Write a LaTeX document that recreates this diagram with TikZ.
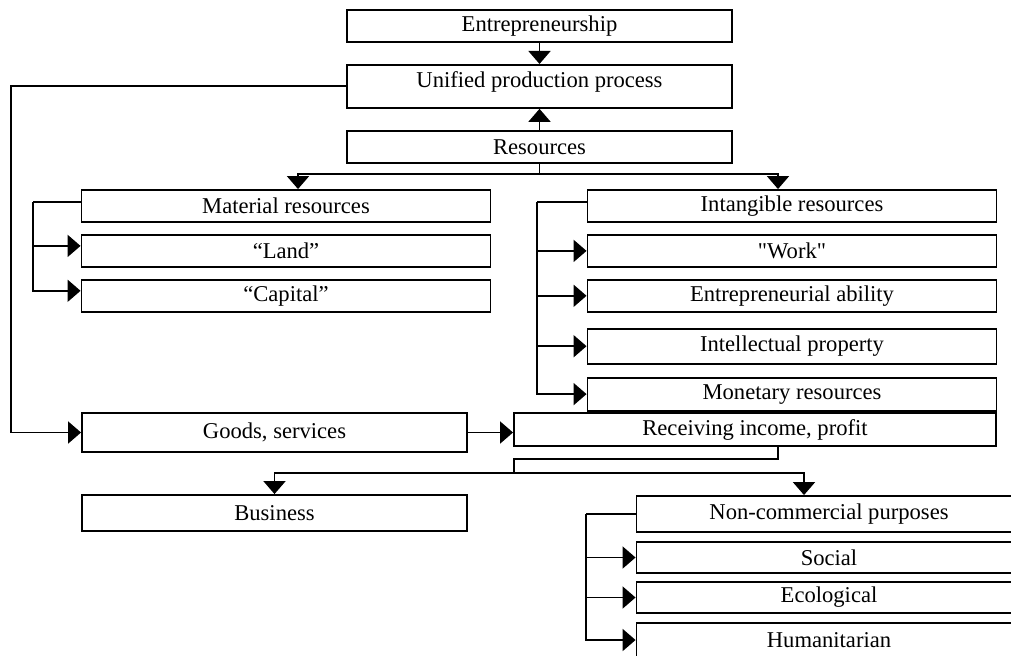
\documentclass[tikz,border=0pt]{standalone}
\usepackage{fontspec}
\setmainfont{Liberation Serif}
\usetikzlibrary{arrows.meta, positioning}

\begin{document}
\begin{tikzpicture}[
    x=0.5pt, y=-0.5pt,
    node distance=5.5pt,
    box/.style={rectangle, draw=black, line width=0.95pt, fill=white, minimum width=192.5pt, minimum height=16pt, inner sep=1pt, font=\fontsize{11.3}{13}\selectfont},
    widebox/.style={box, minimum width=204.5pt},
    link/.style={draw, line width=0.95pt},
    feed/.style={link, -{Triangle[length=6.5pt,width=11pt]}}
]
\useasboundingbox (0,0) rectangle (1011,655);

\node[box] (ent) at (539.5,26) {Entrepreneurship};
\node[box, below=10.5pt of ent, minimum height=21.5pt, text depth=6.5pt] (uni) {Unified production process};
\node[box, below=10.5pt of uni] (res) {Resources};

\node[widebox] (mat) at (286,206) {Material resources};
\node[widebox, below=of mat] (land) {``Land''};
\node[widebox, below=of land] (cap) {``Capital''};

\node[widebox] (int) at (792,206) {Intangible resources};
\node[widebox, below=of int] (work) {\textquotedbl Work\textquotedbl};
\node[widebox, below=of work] (abil) {Entrepreneurial ability};
\node[widebox, below=7.5pt of abil, minimum height=17.5pt] (ip) {Intellectual property};
\node[widebox, below=6pt of ip, minimum height=16.5pt] (mon) {Monetary resources};

\node[box, minimum height=19.5pt] (goods) at (274.5,432.5) {Goods, services};
\node[box, minimum width=241pt, minimum height=16.5pt] (rec) at (755,429.5) {Receiving income, profit};
\node[box, minimum height=18pt] (bus) at (274.5,513) {Business};

\node[box, minimum height=18pt] (nc) at (829,514) {Non-commercial purposes};
\node[box, minimum height=15.5pt] (soc) at (829,557.5) {Social};
\node[box, minimum height=15.5pt] (eco) at (829,597.5) {Ecological};
\node[box, minimum height=17pt] (hum) at (829,640) {Humanitarian};

% main column
\draw[feed] (ent) -- (uni);
\draw[feed] (res) -- (uni);
\draw[link] (res.south) -- ++(0pt,-5pt) coordinate (rs);
\draw[feed] (rs) -| ([xshift=6pt]mat.north);
\draw[feed] (rs) -| ([xshift=-7pt]int.north);

% resource groups
\draw[link] ([yshift=2pt]mat.west) -- ++(-24pt,0pt) coordinate (mb);
\draw[feed] (mb) |- ([yshift=2.5pt]land.west);
\draw[feed] (mb) |- ([yshift=2.5pt]cap.west);
\draw[link] ([yshift=2pt]int.west) -- ++(-25pt,0pt) coordinate (ib);
\foreach \n in {work, abil, ip, mon}
  \draw[feed] (ib) |- (\n.west);

% output
\draw[feed] (uni.west) -| ([xshift=-35pt]goods.west) -- (goods.west);
\draw[feed] (goods.east) -- (goods.east -| rec.west);
\draw[link] ([xshift=11.5pt]rec.south) -- ++(0pt,-6pt) -| ([shift={(0.5pt,-13pt)}]rec.south west) coordinate (rb);
\draw[feed] (rb) -| (bus.north);
\draw[feed] (rb) -| ([xshift=-12.5pt]nc.north);

% purposes
\draw[link] (nc.west) -- ++(-25pt,0pt) coordinate (nb);
\foreach \n in {soc, eco, hum}
  \draw[feed] (nb) |- (\n.west);

\end{tikzpicture}
\end{document}
